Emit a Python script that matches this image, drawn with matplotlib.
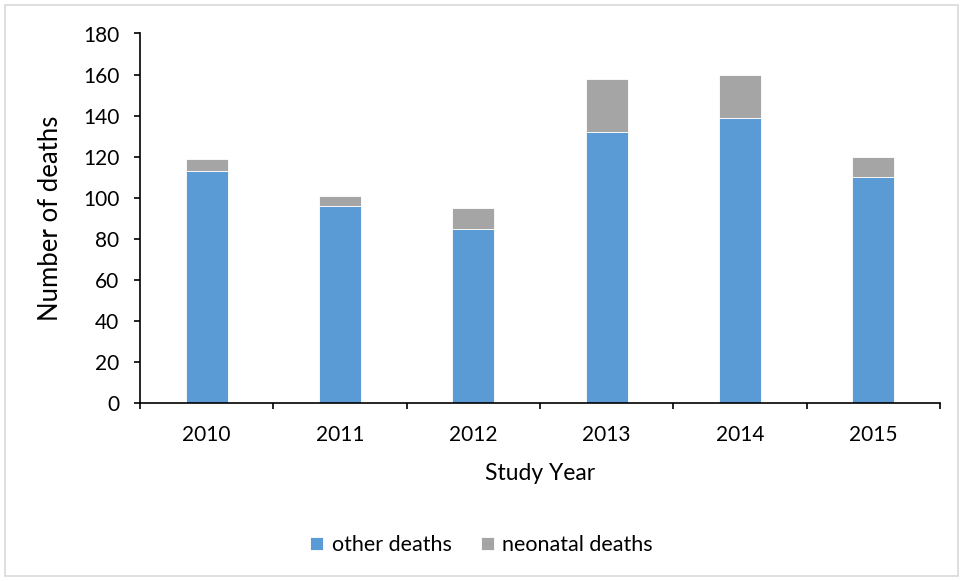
import matplotlib.pyplot as plt
from matplotlib.patches import Rectangle
import numpy as np

years = ["2010", "2011", "2012", "2013", "2014", "2015"]
other_deaths = [113, 96, 85, 132, 139, 110]
neonatal_deaths = [6, 5, 10, 26, 21, 10]

plt.rcParams['font.family'] = ['Lato', 'DejaVu Sans']

fig = plt.figure(figsize=(9.63, 5.81), dpi=100)
ax = fig.add_axes([140 / 963, 1 - 403 / 581, 800 / 963, 369.5 / 581])

x = np.arange(len(years))
w = 0.315
ax.bar(x, other_deaths, width=w, color="#5B9BD5", edgecolor="white", linewidth=0.6,
       label="other deaths", zorder=2)
ax.bar(x, neonatal_deaths, width=w, bottom=other_deaths, color="#A5A5A5",
       edgecolor="white", linewidth=0.6, label="neonatal deaths", zorder=2)

ax.set_xlim(-0.5, len(years) - 0.5)
ax.set_ylim(0, 180)
ax.set_yticks(range(0, 181, 20))
ax.set_xticks(x)
ax.set_xticklabels(years)
ax.set_xticks(np.arange(-0.5, len(years), 1), minor=True)
ax.tick_params(axis="x", which="major", length=0, pad=16, labelsize=15)
ax.tick_params(axis="x", which="minor", length=4, width=1.2, direction="out")
ax.tick_params(axis="y", length=4, width=1.2, direction="out", pad=11, labelsize=15)

for s in ["top", "right"]:
    ax.spines[s].set_visible(False)
for s in ["left", "bottom"]:
    ax.spines[s].set_linewidth(1.2)

ax.set_ylabel("Number of deaths", fontsize=18.5, labelpad=14)
ax.set_xlabel("Study Year", fontsize=16.5, labelpad=13)

fig.legend(loc="center", bbox_to_anchor=(0.5, 1 - 545 / 581), ncol=2, frameon=False,
           fontsize=15.5, handlelength=0.6, handleheight=0.6, handletextpad=0.4,
           columnspacing=1.35)

# outer chart-area border
fig.patches.append(Rectangle((5 / 963, 5 / 581), 953 / 963, 571 / 581,
                             transform=fig.transFigure, fill=False,
                             edgecolor="#D9D9D9", linewidth=1.2))

plt.savefig("out.png", dpi=100)
